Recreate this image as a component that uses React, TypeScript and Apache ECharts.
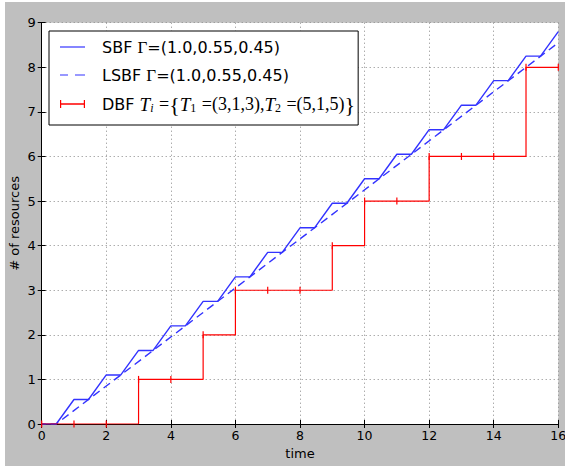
import React, { useEffect, useRef } from "react";
import * as echarts from "echarts";

const sbfTime = [0, 0.45, 1, 1.45, 2, 2.45, 3, 3.45, 4, 4.45, 5, 5.45, 6, 6.45, 7, 7.45, 8, 8.45, 9, 9.45, 10, 10.45, 11, 11.45, 12, 12.45, 13, 13.45, 14, 14.45, 15, 15.45, 16];
const sbfValue = [0, 0, 0.55, 0.55, 1.1, 1.1, 1.65, 1.65, 2.2, 2.2, 2.75, 2.75, 3.3, 3.3, 3.85, 3.85, 4.4, 4.4, 4.95, 4.95, 5.5, 5.5, 6.05, 6.05, 6.6, 6.6, 7.15, 7.15, 7.7, 7.7, 8.25, 8.25, 8.8];
const lsbfTime = [0, 0.45, 16];
const lsbfValue = [0, 0, 8.55];
const dbfTime = [0, 1, 2, 3, 4, 5, 6, 7, 8, 9, 10, 11, 12, 13, 14, 15, 16];
const dbfValue = [0, 0, 0, 1, 1, 2, 3, 3, 3, 4, 5, 5, 6, 6, 6, 8, 8];
const xTicks = { min: 0, max: 16, interval: 2 };
const yTicks = { min: 0, max: 9, interval: 1 };

const pair = (xs: number[], ys: number[]) => xs.map((x, i) => [x, ys[i]]);

export default function App() {
  const ref = useRef<HTMLDivElement>(null);
  useEffect(() => {
    const chart = echarts.init(ref.current!, null, { renderer: "svg" });
    const sans = "DejaVu Sans";
    const serif = "Liberation Serif";
    const common = { color: "#000", fontFamily: sans, fontSize: 16, lineHeight: 20 };
    const axisBase = {
      type: "value" as const,
      axisLine: { show: true, lineStyle: { color: "#000", width: 1 } },
      axisTick: { show: true, inside: true, length: 4, lineStyle: { color: "#000" } },
    };
    chart.setOption({
      animation: false,
      backgroundColor: "#bfbfbf",
      grid: {
        left: 36.7,
        right: 6.7,
        top: 20.7,
        bottom: 42,
        containLabel: false,
        outerBoundsMode: "none",
        show: true,
        backgroundColor: "#fff",
        borderWidth: 0,
      },
      xAxis: [
        {
          ...axisBase,
          ...xTicks,
          position: "bottom",
          name: "time",
          nameLocation: "middle",
          nameGap: 22,
          nameTextStyle: { color: "#000", fontFamily: sans, fontSize: 13 },
          axisLabel: { color: "#000", fontFamily: sans, fontSize: 12.5, margin: 5 },
          splitLine: { show: true, lineStyle: { color: "#888", type: [1, 3], width: 1 } },
        },
        {
          ...axisBase,
          ...xTicks,
          position: "top",
          axisLabel: { show: false },
          splitLine: { show: false },
        },
      ],
      yAxis: [
        {
          ...axisBase,
          ...yTicks,
          position: "left",
          name: "# of resources",
          nameLocation: "middle",
          nameGap: 21,
          nameMoveOverlap: false,
          nameTextStyle: { color: "#000", fontFamily: sans, fontSize: 13 },
          axisLabel: { color: "#000", fontFamily: sans, fontSize: 13, margin: 6 },
          splitLine: { show: true, lineStyle: { color: "#888", type: [1, 3], width: 1 } },
        },
        {
          ...axisBase,
          ...yTicks,
          position: "right",
          axisLabel: { show: false },
          splitLine: { show: false },
        },
      ],
      legend: {
        orient: "vertical",
        left: 44,
        top: 29,
        padding: [6, 3, 10, 11],
        itemGap: 8,
        itemWidth: 25,
        itemHeight: 14,
        backgroundColor: "#fff",
        borderColor: "#000",
        borderWidth: 1,
        borderRadius: 0,
        data: [
          { name: "SBF", icon: "path://M0,6.4h25v1.2h-25z" },
          { name: "LSBF", icon: "path://M0,6.4h8v1.2h-8z M15,6.4h10v1.2h-10z" },
          {
            name: "DBF",
            icon: "path://M0,6.3h25v1.4h-25z M0,3h1.2v8h-1.2z M23.8,3h1.2v8h-1.2z",
          },
        ],
        textStyle: {
          color: "#000",
          fontFamily: serif,
          fontSize: 22,
          lineHeight: 20,
          rich: {
            n0: { ...common, padding: [0, 0, 0, 12] },
            n: { ...common },
            g: { color: "#000", fontFamily: serif, fontSize: 17, lineHeight: 20 },
            m: { color: "#000", fontFamily: serif, fontStyle: "italic", fontSize: 19, lineHeight: 20 },
            s: { color: "#000", fontFamily: serif, fontStyle: "italic", fontSize: 12, lineHeight: 20, verticalAlign: "bottom", padding: [0, 1, 0, 0] },
            d: { color: "#000", fontFamily: serif, fontSize: 12, lineHeight: 20, verticalAlign: "bottom", padding: [0, 1, 0, 0] },
            r: { color: "#000", fontFamily: serif, fontSize: 18, lineHeight: 20 },
            b: { color: "#000", fontFamily: serif, fontSize: 22, lineHeight: 20 },
          },
        },
        formatter: (name: string) => {
          if (name === "SBF") return "{n0|SBF }{g|Γ}{n|=(1.0,0.55,0.45)}";
          if (name === "LSBF") return "{n0|LSBF }{g|Γ}{n|=(1.0,0.55,0.45)}";
          return "{n0|DBF }{m|T}{s|i}{r| =}{b|{}{m|T}{d|1}{r| =(3,1,3),}{m|T}{d|2}{r| =(5,1,5)}}";
        },
      },
      series: [
        {
          name: "SBF",
          type: "line",
          data: pair(sbfTime, sbfValue),
          showSymbol: false,
          symbol: "none",
          color: "#3333ff",
          lineStyle: { color: "#3333ff", width: 1.4 },
        },
        {
          name: "LSBF",
          type: "line",
          data: pair(lsbfTime, lsbfValue),
          showSymbol: false,
          symbol: "none",
          color: "#3333ff",
          lineStyle: { color: "#3333ff", width: 1.4, type: [8, 5], dashOffset: 4 },
        },
        {
          name: "DBF",
          type: "line",
          step: "end",
          data: pair(dbfTime, dbfValue),
          symbol: "rect",
          symbolSize: [1.2, 7],
          showSymbol: true,
          color: "#ff0000",
          itemStyle: { color: "#ff0000" },
          lineStyle: { color: "#ff0000", width: 1.2 },
        },
      ],
    });
    return () => chart.dispose();
  }, []);
  return (
    <div style={{ position: "fixed", left: 0, top: 0, width: 565, height: 466, background: "#fff" }}>
      <div ref={ref} style={{ position: "absolute", left: 5, top: 2, width: 560, height: 464 }} />
    </div>
  );
}
